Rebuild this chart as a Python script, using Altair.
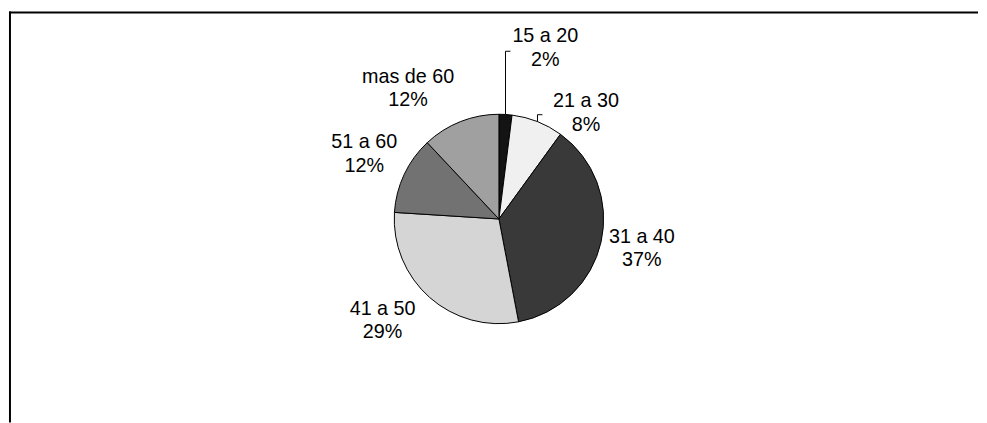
import altair as alt
import pandas as pd

# ---- data ----
categories = ["15 a 20", "21 a 30", "31 a 40", "41 a 50", "51 a 60", "mas de 60"]
percents = [2, 8, 37, 29, 12, 12]
pct_labels = ["2%", "8%", "37%", "29%", "12%", "12%"]

# ---- styling / layout (kept apart from the data) ----
fills = ["#141414", "#f0f0f0", "#393939", "#d5d5d5", "#727272", "#a0a0a0"]
W, H = 979, 415
CX, CY, R = 494, 209, 106
FONT = "Liberation Sans"
label_shift_deg = [11.7, 18.1, -0.5, 7.2, 0.3, -13.5]   # shift from slice middle
label_radius = [178, 138, 148, 157, 151, 160]
leader_len = [64, 7, 0, 0, 0, 0]

df = pd.DataFrame({
    "category": categories,
    "value": percents,
    "pct": pct_labels,
    "order": list(range(len(categories))),
})
df["label"] = df["category"] + "\n" + df["pct"]

cats_js = "[" + ",".join(f"'{c}'" for c in categories) + "]"


def lookup(values):
    arr = "[" + ",".join(str(v) for v in values) + "]"
    return f"{arr}[indexof({cats_js}, datum.category)]"


base = alt.Chart(df)

pie = base.mark_arc(radius=R, stroke="black", strokeWidth=1).encode(
    theta=alt.Theta("value:Q", stack=True),
    order=alt.Order("order:Q"),
    color=alt.Color("category:N", scale=alt.Scale(domain=categories, range=fills), legend=None),
    x=alt.value(CX),
    y=alt.value(CY),
)

angles = (
    base.transform_joinaggregate(total="sum(value)")
    .transform_window(cum="sum(value)", sort=[alt.SortField("order")], frame=[None, 0])
    .transform_calculate(mid="2*PI*(datum.cum - datum.value/2)/datum.total")
)

labels = (
    angles.transform_calculate(
        ang=f"datum.mid + ({lookup(label_shift_deg)})*PI/180",
        rad=lookup(label_radius),
    )
    .transform_calculate(
        lx=f"{CX} + datum.rad*sin(datum.ang)",
        ly=f"{CY} - datum.rad*cos(datum.ang)",
    )
    .mark_text(lineBreak="\n", font=FONT, fontSize=20, lineHeight=24, dy=-13,
               align="center", baseline="middle", color="black")
    .encode(
        x=alt.X("lx:Q", scale=None, axis=None),
        y=alt.Y("ly:Q", scale=None, axis=None),
        text="label:N",
    )
)

leaders_base = (
    angles.transform_calculate(L=lookup(leader_len))
    .transform_filter("datum.L > 0")
    .transform_calculate(
        ex=f"{CX} + {R}*sin(datum.mid)",
        ey=f"{CY} - {R}*cos(datum.mid)",
    )
    .transform_calculate(ty="datum.ey - datum.L", tx2="datum.ex + 5")
)

leader_v = leaders_base.mark_rule(color="black", strokeWidth=1).encode(
    x=alt.X("ex:Q", scale=None, axis=None),
    y=alt.Y("ey:Q", scale=None, axis=None),
    y2="ty:Q",
)
leader_h = leaders_base.mark_rule(color="black", strokeWidth=1).encode(
    x=alt.X("ex:Q", scale=None, axis=None),
    x2="tx2:Q",
    y=alt.Y("ty:Q", scale=None, axis=None),
)

one = alt.Chart(pd.DataFrame({"k": [0]}))
top_border = one.mark_rule(color="black", strokeWidth=2).encode(
    x=alt.value(-2), x2=alt.value(W), y=alt.value(0)
)
left_border = one.mark_rule(color="black", strokeWidth=2).encode(
    x=alt.value(-1), y=alt.value(-1), y2=alt.value(H)
)

chart = (
    alt.layer(pie, leader_v, leader_h, labels, top_border, left_border)
    .properties(width=W, height=H, padding=0, background="white")
    .configure_view(stroke=None)
)

chart.save("out.html", embed_options={"renderer": "svg", "actions": False})
